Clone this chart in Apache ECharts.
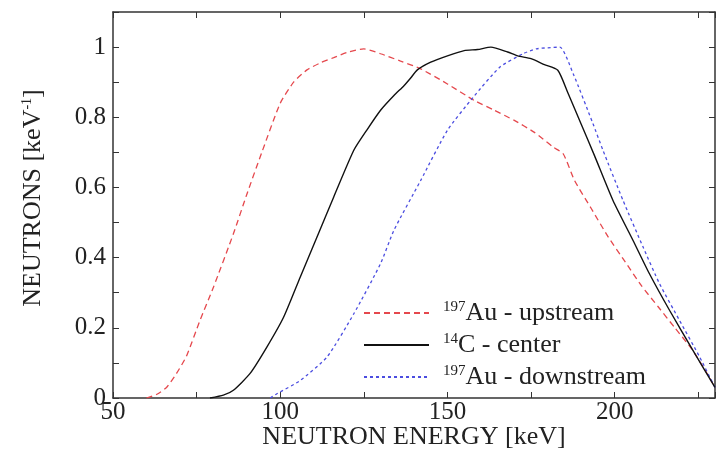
<!DOCTYPE html>
<html>
<head>
<meta charset="utf-8">
<script src="https://cdn.jsdelivr.net/npm/echarts@6/dist/echarts.min.js"></script>
<style>
html,body{margin:0;padding:0;background:#fff;}
#c{width:721px;height:461px;}
</style>
</head>
<body>
<div id="c"></div>
<script>
var seriesNames = ['197Au - upstream', '14C - center', '197Au - downstream'];
var xTicks = [50, 100, 150, 200];
var yTicks = [0, 0.2, 0.4, 0.6, 0.8, 1];

var upX = [60, 63, 66, 69, 72, 76, 80, 86, 90, 94.5, 100, 104, 108, 112, 116, 120, 125, 130, 136, 142, 150, 158, 164, 170, 176, 181.6, 184.6, 188, 193, 198, 203, 208, 213, 218, 223, 227, 230];
var upY = [0, 0.01, 0.03, 0.07, 0.12, 0.221, 0.315, 0.468, 0.58, 0.7, 0.84, 0.9, 0.935, 0.955, 0.97, 0.985, 0.995, 0.981, 0.96, 0.938, 0.895, 0.848, 0.82, 0.791, 0.757, 0.715, 0.696, 0.62, 0.54, 0.46, 0.39, 0.32, 0.26, 0.2, 0.14, 0.08, 0.03];

var cX = [79, 83, 86, 91, 96, 101, 106, 111, 116, 122, 126, 130, 134, 137, 139, 141, 145, 150, 155, 159, 163, 168, 171, 175, 179, 183, 186, 190, 194, 199.5, 205.5, 210.4, 216.4, 223.4, 230];
var cY = [0, 0.008, 0.022, 0.07, 0.145, 0.23, 0.345, 0.459, 0.573, 0.706, 0.765, 0.82, 0.862, 0.89, 0.912, 0.935, 0.957, 0.975, 0.99, 0.993, 1.0, 0.986, 0.975, 0.967, 0.95, 0.934, 0.87, 0.78, 0.69, 0.563, 0.449, 0.354, 0.25, 0.136, 0.03];

var dnX = [97, 99, 106, 114, 122, 130, 134, 142, 150, 157.7, 165.7, 172.6, 176.6, 180, 183.6, 187.6, 193.5, 196.5, 202.5, 208.5, 213.4, 219.4, 225.4, 230];
var dnY = [0, 0.012, 0.05, 0.117, 0.24, 0.383, 0.478, 0.62, 0.763, 0.857, 0.943, 0.981, 0.995, 0.998, 1.0, 0.924, 0.782, 0.706, 0.563, 0.43, 0.326, 0.221, 0.117, 0.03];

function zip(xs, ys) { return xs.map(function (x, i) { return [x, ys[i]]; }); }

var FONT = '"Liberation Serif", "DejaVu Serif", serif';
var AX = '#333';
var TXT = '#222';
var chart = echarts.init(document.getElementById('c'), null, {renderer: 'canvas'});

function axisCommon(showLabels) {
  return {
    axisLine: {show: true, onZero: false, lineStyle: {color: AX, width: 1.5}},
    axisTick: {show: true, inside: true, length: 6, lineStyle: {color: AX, width: 1}},
    minorTick: {show: true, splitNumber: 2, length: 6, lineStyle: {color: AX, width: 1}},
    splitLine: {show: false},
    axisLabel: {show: showLabels, color: TXT, fontFamily: FONT, fontSize: 25}
  };
}

var xb = Object.assign(axisCommon(true), {
  type: 'value', position: 'bottom', min: 50, max: 230, interval: 50,
  name: 'NEUTRON ENERGY [keV]', nameLocation: 'middle', nameGap: 26, nameMoveOverlap: false,
  nameTextStyle: {color: TXT, fontFamily: FONT, fontSize: 26}
});
xb.axisLabel.margin = 2;
xb.axisLabel.showMaxLabel = false;
xb.axisLabel.formatter = function (v) { return xTicks.indexOf(v) >= 0 ? String(v) : ''; };
var xt = Object.assign(axisCommon(false), {type: 'value', position: 'top', min: 50, max: 230, interval: 50});

var yl = Object.assign(axisCommon(true), {
  type: 'value', position: 'left', min: 0, max: 1.1, interval: 0.2,
  name: 'NEUTRONS [keV{sup|-1}]', nameLocation: 'middle', nameGap: 67, nameRotate: 90, nameMoveOverlap: false,
  nameTextStyle: {color: TXT, fontFamily: FONT, fontSize: 26, padding: [0, 0, 0, 14],
    rich: {sup: {fontFamily: FONT, fontSize: 14, verticalAlign: 'top', color: TXT}}}
});
yl.axisLabel.margin = 7;
yl.axisLabel.showMaxLabel = false;
yl.axisLabel.formatter = function (v) { return yTicks.indexOf(Math.round(v * 10) / 10) >= 0 ? String(Math.round(v * 10) / 10) : ''; };
var yr = Object.assign(axisCommon(false), {type: 'value', position: 'right', min: 0, max: 1.1, interval: 0.2});

var lineBase = {type: 'line', showSymbol: false, symbol: 'none', smooth: 0.2, animation: false};

chart.setOption({
  backgroundColor: '#fff',
  animation: false,
  grid: {left: 113, right: 6, top: 12, bottom: 63, containLabel: false},
  xAxis: [xb, xt],
  yAxis: [yl, yr],
  legend: {
    orient: 'vertical', left: 358, top: 295, itemWidth: 65, itemHeight: 14, itemGap: 6,
    data: seriesNames,
    itemStyle: {opacity: 0},
    formatter: function (n) {
      var m = n.match(/^(\d+)(.*)$/);
      return '{sup|' + m[1] + '}{t|' + m[2] + '}';
    },
    textStyle: {
      color: TXT, fontFamily: FONT, fontSize: 25, padding: [0, 0, 0, 9],
      rich: {
        sup: {fontFamily: FONT, fontSize: 15, verticalAlign: 'top', color: TXT, lineHeight: 26},
        t: {fontFamily: FONT, fontSize: 26, color: TXT, lineHeight: 26}
      }
    }
  },
  series: [
    Object.assign({}, lineBase, {name: seriesNames[0], data: zip(upX, upY), z: 3,
      lineStyle: {color: '#e5484d', width: 1.3, type: [6, 4]}, itemStyle: {color: '#e5484d'}}),
    Object.assign({}, lineBase, {name: seriesNames[1], data: zip(cX, cY), z: 4,
      lineStyle: {color: '#111', width: 1.4, type: 'solid'}, itemStyle: {color: '#111'}}),
    Object.assign({}, lineBase, {name: seriesNames[2], data: zip(dnX, dnY), z: 3,
      lineStyle: {color: '#4b4de0', width: 1.3, type: [3, 3]}, itemStyle: {color: '#4b4de0'}})
  ]
});
</script>
</body>
</html>
